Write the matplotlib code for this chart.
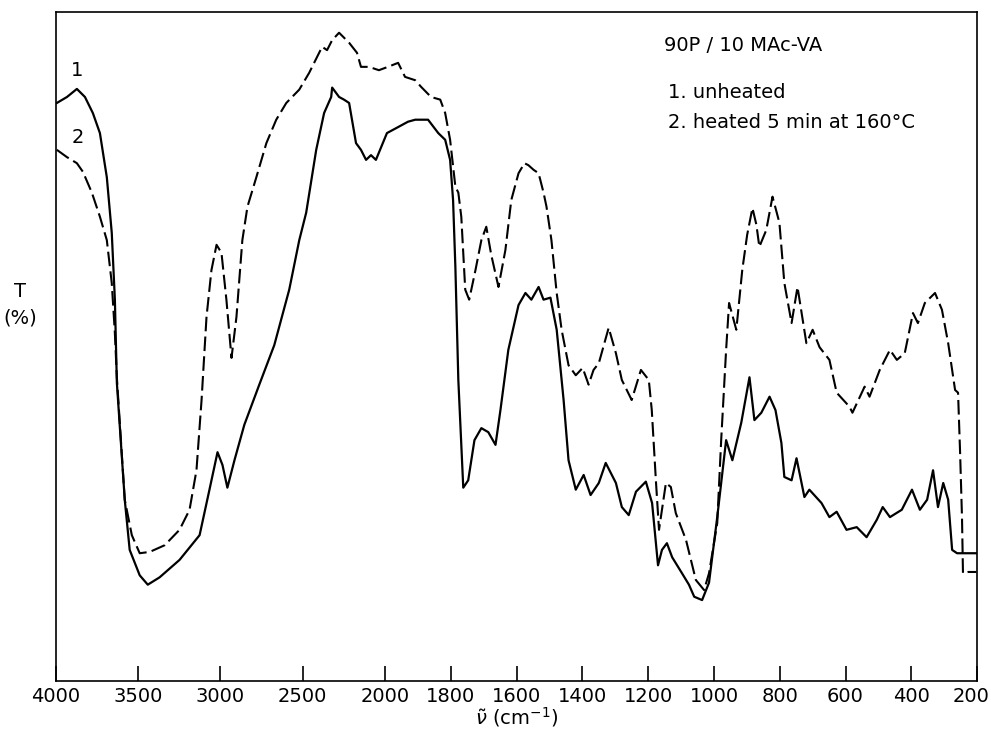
import numpy as np
import matplotlib
matplotlib.use('Agg')
import matplotlib.pyplot as plt
from matplotlib.transforms import ScaledTranslation

plt.rcParams['font.family'] = ['DejaVu Sans']

# curve 1: unheated (solid)
wn1 = [3995, 3933, 3873, 3824, 3776, 3733, 3691, 3661, 3642, 3630, 3582, 3552, 3491, 3442,
       3370, 3249, 3127, 3067, 3018, 2988, 2958, 2915, 2855, 2764, 2673, 2582, 2521, 2479,
       2418, 2370, 2327, 2321, 2279, 2249, 2218, 2176, 2146, 2115, 2085, 2055, 1994, 1960,
       1930, 1908, 1869, 1838, 1817, 1802, 1793, 1786, 1777, 1762, 1747, 1728, 1707, 1686,
       1664, 1649, 1625, 1594, 1573, 1555, 1533, 1518, 1497, 1478, 1457, 1442, 1420, 1396,
       1375, 1350, 1329, 1298, 1280, 1259, 1237, 1207, 1188, 1170, 1158, 1143, 1127, 1097,
       1076, 1060, 1036, 1015, 990, 963, 944, 917, 892, 877, 856, 831, 813, 795, 786, 764,
       749, 725, 710, 673, 649, 627, 597, 566, 536, 505, 487, 465, 429, 398, 374, 352, 334,
       319, 303, 288, 276, 261, 202]
t1 = [86.4, 87.3, 88.5, 87.3, 84.9, 81.9, 75.3, 67.0, 57.0, 44.6, 27.1, 19.6, 15.8, 14.4,
      15.5, 18.1, 21.8, 28.6, 34.2, 32.3, 28.9, 33.0, 38.3, 44.3, 50.2, 58.5, 65.9, 70.0,
      79.4, 84.9, 87.3, 88.7, 87.3, 86.9, 86.4, 80.4, 79.4, 77.9, 78.6, 77.9, 81.9, 82.8,
      83.6, 83.9, 83.9, 81.9, 80.9, 77.9, 71.9, 61.9, 45.0, 28.9, 30.0, 36.0, 37.8, 37.2,
      35.3, 40.5, 49.5, 56.2, 58.0, 57.0, 58.9, 57.0, 57.3, 52.5, 42.0, 33.0, 28.6, 30.8,
      27.8, 29.6, 32.6, 29.6, 26.0, 24.8, 28.3, 29.8, 26.6, 17.3, 19.6, 20.6, 18.5, 16.1,
      14.4, 12.6, 12.1, 14.7, 24.5, 36.0, 33.0, 38.6, 45.4, 39.0, 40.1, 42.5, 40.5, 35.6,
      30.5, 30.0, 33.3, 27.5, 28.6, 26.6, 24.5, 25.3, 22.6, 23.0, 21.5, 24.1, 26.0, 24.5,
      25.6, 28.6, 25.6, 27.1, 31.5, 26.0, 29.6, 27.1, 19.6, 19.1, 19.1]

# curve 2: heated 5 min at 160 C (dashed)
wn2 = [3995, 3933, 3873, 3836, 3782, 3733, 3691, 3661, 3642, 3630, 3582, 3539, 3491, 3430,
       3339, 3249, 3188, 3146, 3115, 3085, 3055, 3024, 2994, 2964, 2933, 2903, 2867, 2836,
       2782, 2721, 2661, 2600, 2521, 2461, 2412, 2382, 2352, 2321, 2279, 2218, 2170, 2146,
       2097, 2037, 1991, 1960, 1939, 1908, 1890, 1860, 1832, 1817, 1802, 1786, 1777, 1768,
       1756, 1744, 1725, 1707, 1692, 1677, 1655, 1634, 1616, 1594, 1576, 1564, 1548, 1533,
       1518, 1509, 1494, 1478, 1463, 1442, 1420, 1399, 1381, 1366, 1350, 1320, 1298, 1280,
       1250, 1222, 1198, 1189, 1176, 1167, 1146, 1131, 1116, 1085, 1055, 1030, 1015, 990,
       978, 963, 954, 932, 914, 899, 883, 871, 862, 841, 822, 801, 786, 764, 746, 719, 700,
       679, 649, 627, 588, 579, 542, 527, 496, 465, 444, 420, 395, 380, 359, 328, 307, 288,
       267, 258, 252, 246, 243, 227, 202]
t2 = [79.4, 78.3, 77.4, 76.1, 73.0, 69.4, 65.9, 59.5, 52.0, 45.4, 27.1, 21.8, 19.1, 19.3,
      20.3, 22.6, 25.6, 31.5, 42.0, 54.4, 61.4, 65.2, 64.0, 57.0, 48.3, 54.4, 65.9, 70.9,
      75.3, 80.4, 83.9, 86.4, 88.4, 90.9, 93.3, 94.8, 94.3, 95.8, 96.9, 95.4, 93.9, 91.8,
      91.8, 91.3, 91.8, 92.4, 90.3, 89.8, 88.8, 87.3, 86.9, 84.9, 80.9, 73.9, 73.0, 69.4,
      58.5, 57.0, 61.4, 65.9, 67.9, 63.7, 58.9, 64.4, 71.9, 75.9, 77.4, 77.1, 76.4, 75.9,
      73.0, 70.9, 65.9, 58.0, 52.5, 47.2, 45.7, 46.8, 44.3, 46.5, 47.5, 52.8, 49.0, 45.0,
      42.0, 46.5, 45.0, 40.5, 29.6, 22.6, 29.6, 29.0, 25.1, 21.1, 15.1, 13.6, 16.1, 23.6,
      36.0, 49.5, 56.5, 52.5, 61.4, 66.7, 70.7, 68.2, 64.9, 67.4, 72.4, 68.5, 59.5, 53.5,
      58.9, 50.5, 52.5, 49.9, 48.0, 43.1, 41.0, 40.1, 44.0, 42.5, 46.5, 49.5, 48.0, 49.0,
      55.0, 53.5, 56.5, 58.0, 55.5, 50.5, 43.5, 43.1, 34.5, 24.5, 16.1, 16.3, 16.3]

xticks = [4000, 3500, 3000, 2500, 2000, 1800, 1600, 1400, 1200, 1000, 800, 600, 400, 200]


# IR axis: scale doubles below 2000 cm-1
def fwd(x):
    x = np.asarray(x, dtype=float)
    return np.where(x >= 2000, x, 2000 - (2000 - x) * 2)


def inv(y):
    y = np.asarray(y, dtype=float)
    return np.where(y >= 2000, y, 2000 - (2000 - y) / 2)


fig = plt.figure(figsize=(9.91, 7.36), dpi=100)
ax = fig.add_axes([0.0565, 0.0747, 0.9295, 0.909])
ax.set_xscale('function', functions=(fwd, inv))

ax.plot(wn1, t1, color='black', linewidth=1.6)
ax.plot(wn2, t2, color='black', linewidth=1.5, linestyle=(0, (7, 2.5)))

ax.set_xlim(4000, 200)
ax.set_ylim(0, 100)
ax.set_xticks(xticks)
ax.set_xticklabels([str(v) for v in xticks])
ax.set_yticks([])
ax.tick_params(axis='x', direction='in', length=11, width=1.2, labelsize=14, pad=4)
ax.minorticks_off()
for s in ax.spines.values():
    s.set_linewidth(1.2)

# keep last tick label inside the figure
last = ax.get_xticklabels()[-1]
last.set_transform(last.get_transform() + ScaledTranslation(-6 / 100, 0, fig.dpi_scale_trans))

ax.set_xlabel(r'$\tilde{\nu}$ (cm$^{-1}$)', fontsize=14, labelpad=0)
fig.text(0.020, 1 - 305 / 736, 'T\n(%)', ha='center', va='center', fontsize=14, linespacing=1.5)

ax.text(0.0165, 0.913, '1', transform=ax.transAxes, fontsize=14, ha='left', va='center')
ax.text(0.0165, 0.812, '2', transform=ax.transAxes, fontsize=14, ha='left', va='center')

ax.text(0.66, 0.95, '90P / 10 MAc-VA', transform=ax.transAxes, fontsize=14, va='center')
ax.text(0.664, 0.879, '1. unheated', transform=ax.transAxes, fontsize=14, va='center')
ax.text(0.664, 0.835, '2. heated 5 min at 160°C', transform=ax.transAxes, fontsize=14, va='center')

plt.savefig('out.png', dpi=100)
